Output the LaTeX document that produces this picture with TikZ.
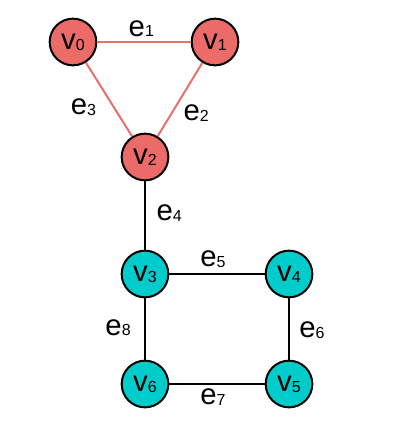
\documentclass[tikz,border=0pt]{standalone}
\usepackage{fontspec}
\setmainfont{Liberation Sans}
\definecolor{redv}{RGB}{235,107,104}
\definecolor{rede}{RGB}{232,112,108}
\definecolor{tealv}{RGB}{0,204,204}
\newcommand{\lab}[2]{\fontsize{22}{23}\selectfont #1\raisebox{-0.5pt}{\fontsize{12}{12}\selectfont #2}}
\tikzset{
    vert/.style = {circle, draw = black, line width = 1.5pt, minimum size = 35pt, inner sep = 0pt},
    redv/.style = {vert, fill = redv},
    tealv/.style = {vert, fill = tealv},
    redge/.style = {line width = 1.5pt, rede},
    bedge/.style = {line width = 1.5pt, black},
    elab/.style = {inner sep = 1pt, text = black}
}
\begin{document}
\begin{tikzpicture}[x = 0.75pt, y = -0.75pt]
            \useasboundingbox (0,0) rectangle (420,424);
            % triangle
            \foreach \n/\x/\y in {0/73/42, 1/215/42, 2/145/157}
                {\node[redv] (v\n) at (\x,\y) {\lab{v}{\n}};}
            % square
            \foreach \n/\x/\y in {3/145/274, 4/289/274, 5/289/384, 6/145/384}
                {\node[tealv] (v\n) at (\x,\y) {\lab{v}{\n}};}
            \draw[redge] (v0) -- node[elab, above, xshift = -2pt, yshift = 2pt] {\lab{e}{1}} (v1);
            \draw[redge] (v1) -- node[elab, right, xshift = 1pt, yshift = -10pt] {\lab{e}{2}} (v2);
            \draw[redge] (v0) -- node[elab, left, xshift = -8pt, yshift = -6pt] {\lab{e}{3}} (v2);
            \draw[bedge] (v2) -- node[elab, right, xshift = 7pt, yshift = 2pt] {\lab{e}{4}} (v3);
            \draw[bedge] (v3) -- node[elab, above, xshift = -3pt, yshift = 3pt] {\lab{e}{5}} (v4);
            \draw[bedge] (v4) -- node[elab, right, xshift = 6pt, yshift = -1pt] {\lab{e}{6}} (v5);
            \draw[bedge] (v5) -- node[elab, below, xshift = -3pt, yshift = -2pt] {\lab{e}{7}} (v6);
            \draw[bedge] (v6) -- node[elab, left, xshift = -9pt, yshift = 1pt] {\lab{e}{8}} (v3);
        \end{tikzpicture}
\end{document}
